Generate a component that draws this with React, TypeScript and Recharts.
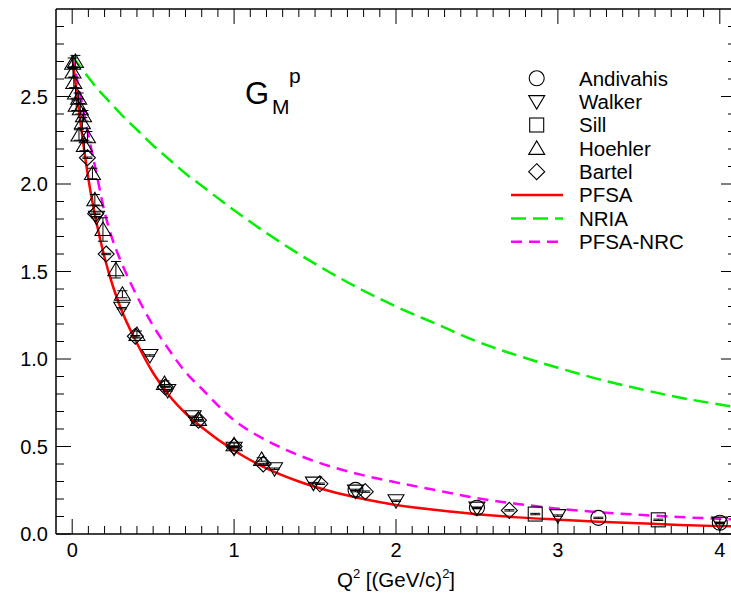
import React from "react";
import { ComposedChart, Line, Scatter, XAxis, YAxis, ErrorBar } from "recharts";

const FONT = '"Liberation Sans", Arial, Helvetica, sans-serif';

// theory curves: Q^2 grid and G_M^p values
const curveQ2 = [0, 0.05, 0.1, 0.15, 0.2, 0.25, 0.3, 0.4, 0.5, 0.6, 0.7, 0.8, 1.0, 1.2, 1.4, 1.6, 1.8, 2.0, 2.25, 2.5, 2.75, 3.0, 3.25, 3.5, 3.75, 4.0, 4.1];
const pfsa = [2.73, 2.36, 2.03, 1.78, 1.58, 1.42, 1.29, 1.09, 0.92, 0.79, 0.69, 0.61, 0.477, 0.375, 0.3, 0.243, 0.2, 0.166, 0.137, 0.113, 0.095, 0.082, 0.07, 0.061, 0.052, 0.045, 0.043];
const nria = [2.73, 2.67, 2.61, 2.55, 2.5, 2.45, 2.4, 2.31, 2.22, 2.14, 2.06, 1.99, 1.85, 1.72, 1.6, 1.49, 1.39, 1.3, 1.2, 1.1, 1.02, 0.95, 0.885, 0.83, 0.78, 0.74, 0.725];
const pfsaNrc = [2.73, 2.51, 2.28, 2.06, 1.84, 1.68, 1.56, 1.36, 1.19, 1.05, 0.925, 0.83, 0.65, 0.535, 0.45, 0.385, 0.335, 0.295, 0.25, 0.205, 0.172, 0.145, 0.125, 0.11, 0.097, 0.087, 0.083];

// measurements
const andivahisQ2 = [1.75, 2.5, 3.25, 4.0];
const andivahisGM = [0.252, 0.15, 0.092, 0.064];

const walkerQ2 = [0.15, 0.306, 0.48, 0.59, 0.747, 1.0, 1.25, 1.49, 1.75, 2.0, 2.5, 3.0, 4.0];
const walkerGM = [1.81, 1.29, 1.02, 0.82, 0.67, 0.49, 0.373, 0.291, 0.245, 0.19, 0.148, 0.105, 0.062];

const sillQ2 = [2.86, 3.62];
const sillGM = [0.114, 0.081];

const hoehlerQ2 = [0.003, 0.02, 0.005, 0.01, 0.02, 0.04, 0.025, 0.05, 0.07, 0.063, 0.042, 0.094, 0.075, 0.125, 0.14, 0.19, 0.27, 0.31, 0.4, 0.57, 0.78, 1.0, 1.17];
const hoehlerGM = [2.69, 2.7, 2.64, 2.58, 2.52, 2.49, 2.45, 2.43, 2.39, 2.35, 2.28, 2.27, 2.22, 2.06, 1.91, 1.74, 1.51, 1.37, 1.14, 0.86, 0.655, 0.51, 0.426];
const hoehlerErr = [0.03, 0.035, 0.03, 0.03, 0.03, 0.03, 0.03, 0.03, 0.03, 0.03, 0.03, 0.03, 0.03, 0.03, 0.03, 0.067, 0.047, 0.02, 0.02, 0.015, 0.01, 0.01, 0.01];

const bartelQ2 = [0.094, 0.145, 0.21, 0.39, 0.575, 0.78, 1.0, 1.18, 1.53, 1.81, 2.7];
const bartelGM = [2.15, 1.83, 1.6, 1.13, 0.84, 0.65, 0.5, 0.4, 0.287, 0.242, 0.135];

const xMajor = [0, 1, 2, 3, 4];
const yMajor = ["0.0", "0.5", "1.0", "1.5", "2.0", "2.5"];

const xTicks = Array.from({ length: 41 }, (_, i) => i / 10);
const yTicks = Array.from({ length: 30 }, (_, i) => i / 10);

const pts = (q: number[], v: number[], e?: number[]) =>
  q.map((x, i) => ({ q: x, v: v[i], e: e ? e[i] : 0.004 }));

const isXMajor = (v: number) => xMajor.includes(v);
const isYMajor = (v: number) => yMajor.includes(v.toFixed(1));

function Marker({ kind, cx, cy }: { kind: string; cx: number; cy: number }) {
  const st = { fill: "none", stroke: "#000", strokeWidth: 1.1 };
  if (kind === "circle") return <circle cx={cx} cy={cy} r={7.5} {...st} />;
  if (kind === "down")
    return <polygon points={`${cx - 8},${cy - 6} ${cx + 8},${cy - 6} ${cx},${cy + 7.5}`} {...st} />;
  if (kind === "square") return <rect x={cx - 7} y={cy - 7} width={14} height={14} {...st} />;
  if (kind === "up")
    return <polygon points={`${cx},${cy - 7.5} ${cx - 8},${cy + 6} ${cx + 8},${cy + 6}`} {...st} />;
  return <polygon points={`${cx},${cy - 8} ${cx + 8},${cy} ${cx},${cy + 8} ${cx - 8},${cy}`} {...st} />;
}

const BottomTick = (p: any) => {
  const v = p.payload.value;
  const major = isXMajor(v);
  return (
    <g>
      <line x1={p.x} x2={p.x} y1={p.y} y2={p.y - (major ? 15 : 8)} stroke="#000" strokeWidth={1} />
      {major && (
        <text x={p.x} y={p.y + 23} textAnchor="middle" fontSize={20} fontFamily={FONT} fill="#000">
          {v}
        </text>
      )}
    </g>
  );
};

const TopTick = (p: any) => {
  const major = isXMajor(p.payload.value);
  return <line x1={p.x} x2={p.x} y1={p.y} y2={p.y + (major ? 15 : 8)} stroke="#000" strokeWidth={1} />;
};

const LeftTick = (p: any) => {
  const v = p.payload.value;
  const major = isYMajor(v);
  return (
    <g>
      <line x1={p.x} x2={p.x + (major ? 15 : 8)} y1={p.y} y2={p.y} stroke="#000" strokeWidth={1} />
      {major && (
        <text x={p.x - 8} y={p.y + 7.3} textAnchor="end" fontSize={20} fontFamily={FONT} fill="#000">
          {v.toFixed(1)}
        </text>
      )}
    </g>
  );
};

const RightTick = (p: any) => {
  const major = isYMajor(p.payload.value);
  return <line x1={p.x} x2={p.x - (major ? 15 : 8)} y1={p.y} y2={p.y} stroke="#000" strokeWidth={1} />;
};

const legendItems = [
  { label: "Andivahis", marker: "circle" },
  { label: "Walker", marker: "down" },
  { label: "Sill", marker: "square" },
  { label: "Hoehler", marker: "up" },
  { label: "Bartel", marker: "diamond" },
  { label: "PFSA", color: "#ff0000", dash: undefined },
  { label: "NRIA", color: "#00f000", dash: "15 7" },
  { label: "PFSA-NRC", color: "#ff00ff", dash: "11 7" },
];

export default function App() {
  const axisLine = { stroke: "#000", strokeWidth: 1.5 };
  return (
    <div style={{ position: "absolute", left: 0, top: 0, width: 731, height: 595, overflow: "hidden", background: "#fff" }}>
      <ComposedChart width={740} height={595} margin={{ top: 0, right: 0, bottom: 0, left: 0 }}>
        <XAxis xAxisId={0} dataKey="q" type="number" domain={[-0.1, 4.1]} allowDataOverflow ticks={xTicks} interval={0}
          height={61} tickSize={0} tickMargin={0} tickLine={false} axisLine={axisLine} tick={BottomTick} />
        <XAxis xAxisId="top" orientation="top" dataKey="q" type="number" domain={[-0.1, 4.1]} allowDataOverflow ticks={xTicks}
          interval={0} height={9} tickSize={0} tickMargin={0} tickLine={false} axisLine={axisLine} tick={TopTick} />
        <YAxis yAxisId={0} dataKey="v" type="number" domain={[0, 3]} allowDataOverflow ticks={yTicks} interval={0}
          width={56} tickSize={0} tickMargin={0} tickLine={false} axisLine={axisLine} tick={LeftTick} />
        <YAxis yAxisId="right" orientation="right" dataKey="v" type="number" domain={[0, 3]} allowDataOverflow ticks={yTicks}
          interval={0} width={4} tickSize={0} tickMargin={0} tickLine={false} axisLine={axisLine} tick={RightTick} />

        <Line data={pts(curveQ2, nria)} dataKey="v" type="monotone" stroke="#00f000" strokeWidth={2.5}
          strokeDasharray="15 7" dot={false} isAnimationActive={false} />
        <Line data={pts(curveQ2, pfsaNrc)} dataKey="v" type="monotone" stroke="#ff00ff" strokeWidth={2.5}
          strokeDasharray="11 7" dot={false} isAnimationActive={false} />
        <Line data={pts(curveQ2, pfsa)} dataKey="v" type="monotone" stroke="#ff0000" strokeWidth={2.5}
          dot={false} isAnimationActive={false} />

        <Scatter data={pts(andivahisQ2, andivahisGM)} isAnimationActive={false}
          shape={(p: any) => <Marker kind="circle" cx={p.cx} cy={p.cy} />}>
          <ErrorBar dataKey="e" direction="y" width={5} stroke="#000" strokeWidth={1} />
        </Scatter>
        <Scatter data={pts(walkerQ2, walkerGM)} isAnimationActive={false}
          shape={(p: any) => <Marker kind="down" cx={p.cx} cy={p.cy} />}>
          <ErrorBar dataKey="e" direction="y" width={5} stroke="#000" strokeWidth={1} />
        </Scatter>
        <Scatter data={pts(sillQ2, sillGM)} isAnimationActive={false}
          shape={(p: any) => <Marker kind="square" cx={p.cx} cy={p.cy} />}>
          <ErrorBar dataKey="e" direction="y" width={5} stroke="#000" strokeWidth={1} />
        </Scatter>
        <Scatter data={pts(hoehlerQ2, hoehlerGM, hoehlerErr)} isAnimationActive={false}
          shape={(p: any) => <Marker kind="up" cx={p.cx} cy={p.cy} />}>
          <ErrorBar dataKey="e" direction="y" width={5} stroke="#000" strokeWidth={1} />
        </Scatter>
        <Scatter data={pts(bartelQ2, bartelGM)} isAnimationActive={false}
          shape={(p: any) => <Marker kind="diamond" cx={p.cx} cy={p.cy} />}>
          <ErrorBar dataKey="e" direction="y" width={5} stroke="#000" strokeWidth={1} />
        </Scatter>
      </ComposedChart>

      <svg width={731} height={595} style={{ position: "absolute", left: 0, top: 0, pointerEvents: "none" }}
        fontFamily={FONT} fill="#000">
        <text x={245} y={103.5} fontSize={31}>G</text>
        <text x={272} y={114} fontSize={21}>M</text>
        <text x={289} y={83} fontSize={21}>p</text>

        {legendItems.map((it, i) => {
          const cy = 78.3 + 23.35 * i;
          return (
            <g key={it.label}>
              {it.marker ? (
                <Marker kind={it.marker} cx={536.7} cy={cy} />
              ) : (
                <line x1={511} x2={563} y1={cy} y2={cy} stroke={it.color} strokeWidth={2.5} strokeDasharray={it.dash} />
              )}
              <text x={579} y={cy + 7.4} fontSize={20.5}>{it.label}</text>
            </g>
          );
        })}

        <text x={396} y={587} textAnchor="middle" fontSize={20.5}>
          Q<tspan dy={-9} fontSize={13}>2</tspan>
          <tspan dy={9}> [(GeV/c)</tspan>
          <tspan dy={-9} fontSize={13}>2</tspan>
          <tspan dy={9}>]</tspan>
        </text>
      </svg>
    </div>
  );
}
